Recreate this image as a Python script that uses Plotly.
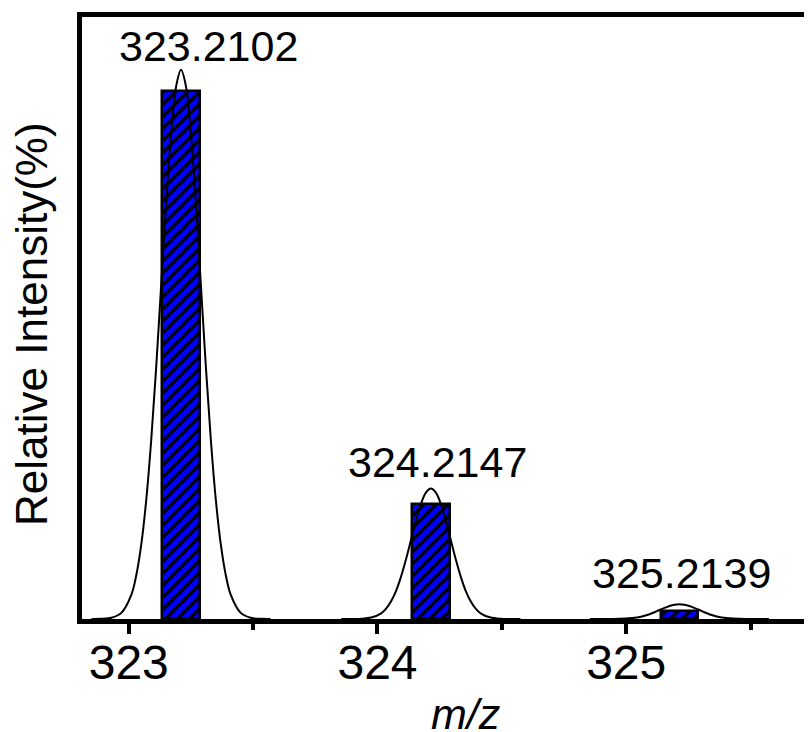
import plotly.graph_objects as go

# ---- data ----
peak_mz = [323.2102, 324.2147, 325.2139]
peak_labels = ["323.2102", "324.2147", "325.2139"]
bar_intensity = [100.0, 21.7, 1.5]

# simulated profile (offset from peak centre, m/z) and its intensities per peak
profile_offset = [-0.36, -0.32, -0.28, -0.24, -0.20, -0.18, -0.16, -0.14, -0.12, -0.10,
                  -0.08, -0.06, -0.04, -0.02, 0.0, 0.02, 0.04, 0.06, 0.08, 0.10,
                  0.12, 0.14, 0.16, 0.18, 0.20, 0.24, 0.28, 0.32, 0.36]
profile_1 = [0.0, 0.03, 0.23, 1.16, 4.57, 8.28, 14.07, 22.5, 33.8, 47.6,
             63.1, 78.5, 91.7, 100.8, 104.0, 100.8, 91.7, 78.5, 63.1, 47.6,
             33.8, 22.5, 14.07, 8.28, 4.57, 1.16, 0.23, 0.03, 0.0]
profile_2 = [0.0, 0.01, 0.05, 0.27, 1.08, 1.97, 3.34, 5.34, 8.03, 11.31,
             14.98, 18.65, 21.79, 23.94, 24.7, 23.94, 21.79, 18.65, 14.98, 11.31,
             8.03, 5.34, 3.34, 1.97, 1.08, 0.27, 0.05, 0.01, 0.0]
profile_3 = [0.0, 0.0, 0.01, 0.03, 0.12, 0.22, 0.38, 0.61, 0.91, 1.28,
             1.70, 2.11, 2.47, 2.71, 2.8, 2.71, 2.47, 2.11, 1.70, 1.28,
             0.91, 0.61, 0.38, 0.22, 0.12, 0.03, 0.01, 0.0, 0.0]
profiles = [profile_1, profile_2, profile_3]

label_x = [323.320, 324.2405, 325.2238]
label_y = [108.6, 29.7, 8.8]

x_ticks = [323, 324, 325]
x_range = [322.812, 325.747]
y_range = [0, 114]

FONT = "Arial, Liberation Sans, sans-serif"

fig = go.Figure()

for c, prof in zip(peak_mz, profiles):
    fig.add_trace(go.Scatter(
        x=[c + o for o in profile_offset], y=prof, mode="lines",
        line=dict(color="black", width=2, shape="spline"),
        showlegend=False, hoverinfo="skip"))

fig.add_trace(go.Bar(
    x=peak_mz, y=bar_intensity, width=0.15,
    marker=dict(color="#0000FF",
                line=dict(color="black", width=2.5),
                pattern=dict(shape="/", fgcolor="black", bgcolor="#0000FF",
                             size=8.5, solidity=0.4, fillmode="replace")),
    showlegend=False))

for lx, ly, t in zip(label_x, label_y, peak_labels):
    fig.add_annotation(x=lx, y=ly, xref="x", yref="y", text=t, showarrow=False,
                       xanchor="center", yanchor="middle",
                       font=dict(family=FONT, size=43, color="black"))

fig.add_annotation(x=0.525, y=-0.158, xref="paper", yref="paper", text="<i>m/z</i>",
                   showarrow=False, xanchor="center", yanchor="middle",
                   font=dict(family=FONT, size=43, color="black"))
fig.add_annotation(x=-0.0700, y=0.490, xref="paper", yref="paper",
                   text="Relative Intensity(%)", textangle=-90, showarrow=False,
                   xanchor="center", yanchor="middle",
                   font=dict(family=FONT, size=44, color="black"))

# the page adds an 8 px body margin, so the figure is sized to fill the window exactly
fig.update_layout(
    width=804, height=724,
    margin=dict(l=73.5, r=0, t=9, b=112.5),
    paper_bgcolor="white", plot_bgcolor="white",
    bargap=0,
    xaxis=dict(range=x_range, tickvals=x_ticks, ticktext=[str(v) for v in x_ticks],
               showgrid=False, zeroline=False, showline=True, linecolor="black",
               linewidth=4.5, mirror=True, ticks="outside", ticklen=10, tickwidth=3.5,
               tickcolor="black", ticklabelstandoff=-12,
               minor=dict(dtick=0.5, tick0=323, ticks="outside", ticklen=6,
                          tickwidth=3.5, tickcolor="black", showgrid=False),
               tickfont=dict(family=FONT, size=48, color="black")),
    yaxis=dict(range=y_range, showgrid=False, zeroline=False, showline=True,
               linecolor="black", linewidth=4.5, mirror=False, ticks="",
               showticklabels=False),
)

fig.write_html("out.html")
